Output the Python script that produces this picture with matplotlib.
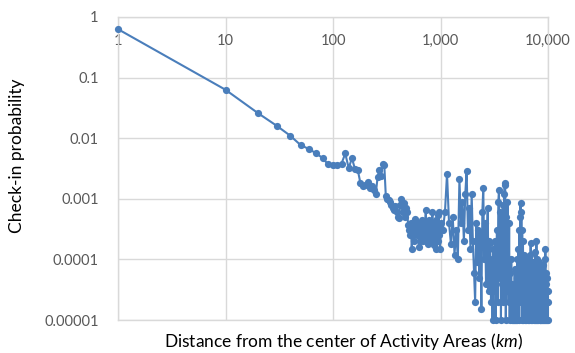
import numpy as np
import matplotlib
matplotlib.use("Agg")
from matplotlib import pyplot as plt
from matplotlib.ticker import FixedLocator, FixedFormatter, NullLocator

plt.rcParams['font.family'] = ['Lato', 'DejaVu Sans']
plt.rcParams['mathtext.fontset'] = 'custom'
plt.rcParams['mathtext.rm'] = 'Lato'
plt.rcParams['mathtext.it'] = 'Lato:italic'

# distance bins (km): 1, then 10..1000 every 10 km, then 1050..10000 every 50 km
dist_near = [1]
dist_mid = list(range(10, 1001, 10))
dist_far = list(range(1050, 10001, 50))

prob_near = [0.63]
prob_mid = [
    0.063, 0.026, 0.016, 0.011, 0.0077, 0.0066, 0.0056, 0.0047, 0.0037, 0.0036,
    0.0036, 0.0038, 0.0056, 0.0032, 0.0047, 0.0031, 0.0030, 0.0018, 0.0016, 0.0017,
    0.0019, 0.0015, 0.0016, 0.0014, 0.0012, 0.0023, 0.0030, 0.0024, 0.0037, 0.0036,
    0.0011, 0.0010, 0.00095, 0.00088, 0.0008, 0.0007, 0.00065, 0.00075, 0.0006, 0.0005,
    0.00048, 0.0008, 0.001, 0.00075, 0.0006, 0.00085, 0.0005, 0.0007, 0.0006, 0.00037,
    0.0003, 0.00025, 0.0004, 0.00015, 0.00028, 0.00035, 0.0002, 0.00046, 0.0003, 0.00025,
    0.0004, 0.0003, 0.00016, 0.00028, 0.0002, 0.00035, 0.00045, 0.00025, 0.0002, 0.0003,
    0.00022, 0.0004, 0.00065, 0.00025, 0.00035, 0.00018, 0.0003, 0.00045, 0.0002, 0.00022,
    0.00035, 0.00028, 0.00025, 0.0006, 0.0002, 0.0004, 0.00017, 0.0003, 0.00022, 0.00045,
    0.00015, 0.00035, 0.0003, 0.00055, 0.0002, 0.0006, 0.00025, 0.0003, 0.00015, 0.0004,
]
prob_far = [
    0.0003, 0.0006, 0.0026, 0.0004, 0.00018, 0.0005, 0.00012, 0.0003, 0.0001, 0.0021,
    0.0004, 0.0009, 0.0002, 0.0012, 0.0029, 0.0003, 0.0007, 0.00015, 0.0012, 0.0002,
    0.00006, 0.00002, 0.0004, 0.00009, 0.0003, 0.00005, 0.00025, 0.000015, 0.0006, 0.0015,
    0.0001, 0.0004, 0.00004, 0.0002, 0.0007, 0.00003, 0.0002, 0.00019, 0.00002, 0.0001,
    0.00001, 0.00015, 0.00003, 0.0002, 0.00001, 0.00008, 0.0003, 0.00002, 0.0009, 0.0014,
    0.00005, 0.0006, 0.00001, 0.0003, 0.00004, 0.0008, 0.00002, 0.0012, 0.0018, 0.0017,
    0.00001, 0.0005, 0.00003, 0.0009, 0.0001, 0.00002, 0.0004, 0.00001, 0.00006, 0.00002,
    0.0001, 0.00001, 0.00004, 0.00001, 0.00003, 0.00001, 0.00002, 0.00007, 0.00001, 0.00003,
    0.00001, 0.00005, 0.00001, 0.0001, 0.00002, 0.00015, 0.00001, 0.0003, 0.00004, 0.0005,
    0.00085, 0.00002, 0.0006, 0.00001, 0.0003, 0.00003, 0.0002, 0.00001, 0.00012, 0.00004,
    0.00008, 0.00001, 0.0001, 0.00002, 0.00006, 0.00001, 0.00009, 0.00003, 0.00005, 0.00001,
    0.00007, 0.00002, 0.0001, 0.00001, 0.00005, 0.00012, 0.00002, 0.00019, 0.00001, 0.00008,
    0.00003, 0.00006, 0.00001, 0.00009, 0.00002, 0.00004, 0.00001, 0.00007, 0.00002, 0.00005,
    0.00001, 0.00013, 0.00003, 0.00006, 0.00001, 0.0002, 0.00002, 0.0001, 0.00001, 0.00008,
    0.00003, 0.00005, 0.00001, 0.00004, 0.00002, 0.00009, 0.00001, 0.00003, 0.00006, 0.00001,
    0.00004, 0.00002, 0.00007, 0.00001, 0.00003, 0.00005, 0.00001, 0.00002, 0.00008, 0.00001,
    0.00004, 0.00002, 0.00006, 0.00001, 0.00003, 0.0001, 0.00001, 0.00005, 0.00015, 0.00002,
    0.00006, 0.00001, 0.00004, 0.00002, 0.00003, 0.00001, 0.00005, 0.00002, 0.00001, 0.00003,
]

x_ticks = [1, 10, 100, 1000, 10000]
x_labels = ["1", "10", "100", "1,000", "10,000"]
y_ticks = [1, 0.1, 0.01, 0.001, 0.0001, 0.00001]
y_labels = ["1", "0.1", "0.01", "0.001", "0.0001", "0.00001"]

distance = dist_near + dist_mid + dist_far
prob = prob_near + prob_mid + prob_far

blue = "#4A7EBB"
grid = "#D9D9D9"
txt = "#595959"

fig = plt.figure(figsize=(5.75, 3.53), dpi=100)
ax = fig.add_axes([118/575, 1-320/353, 430/575, 303/353])

ax.plot(distance, prob, color=blue, lw=1.5, marker="o", ms=5.2,
        markeredgewidth=0, clip_on=False, zorder=3)

ax.set_xscale("log")
ax.set_yscale("log")
ax.set_xlim(1, 10000)
ax.set_ylim(0.00001, 1)

ax.xaxis.set_major_locator(FixedLocator(x_ticks))
ax.xaxis.set_major_formatter(FixedFormatter(x_labels))
ax.xaxis.set_minor_locator(NullLocator())
ax.yaxis.set_major_locator(FixedLocator(y_ticks))
ax.yaxis.set_major_formatter(FixedFormatter(y_labels))
ax.yaxis.set_minor_locator(NullLocator())

ax.tick_params(axis="x", top=True, bottom=False, labeltop=True, labelbottom=False,
               length=0, pad=-22, labelsize=10.5, labelcolor=txt)
ax.tick_params(axis="y", length=0, pad=14, labelsize=10.5, labelcolor=txt)

ax.grid(True, color=grid, lw=1)
ax.set_axisbelow(True)
for s in ax.spines.values():
    s.set_color(grid)
    s.set_linewidth(1)

fig.text(17/575, 1-156/353, "Check-in probability", rotation=90,
         ha="center", va="center", fontsize=12.5, color="black")
fig.text(344/575, 1-342/353, "Distance from the center of Activity Areas ($\\it{km}$)",
         ha="center", va="center", fontsize=12.5, color="black")

fig.savefig("out.png", dpi=100)
